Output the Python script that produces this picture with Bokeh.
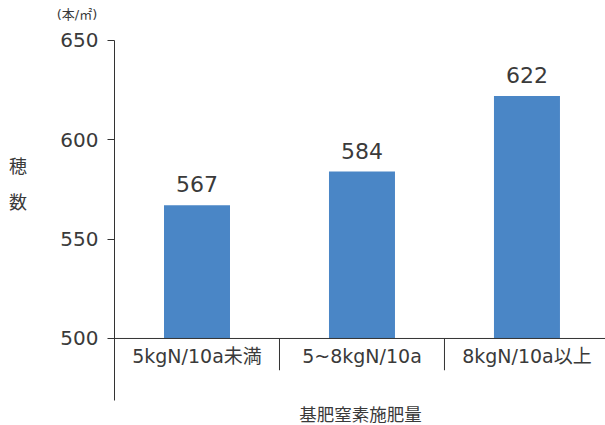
from bokeh.plotting import figure
from bokeh.models import Range1d, FixedTicker, ColumnDataSource
from bokeh.core.properties import value
from bokeh.embed import file_html
from bokeh.resources import INLINE

# 基肥窒素施肥量ごとの穂数（本/㎡）
categories = ["5kgN/10a未満", "5~8kgN/10a", "8kgN/10a以上"]
ear_counts = [567, 584, 622]
y_ticks = [500, 550, 600, 650]

FONT = "DejaVu Sans, Noto Sans CJK JP"
CJK = "Noto Sans CJK JP"
TEXT = "#3a3a3a"
LINE = "#333333"
BAR = "#4a86c6"

Y_BASE, Y_TOP = 500, 650
AXIS_BOTTOM = 468.8          # the value axis continues below the baseline
SEP_BOTTOM = 484             # lower end of the category separators
X_END = 2.976

# the frame fills the whole canvas; the value axis sits at x = 0
p = figure(width=605, height=425, output_backend="svg", toolbar_location=None,
           x_range=Range1d(-0.691, X_END), y_range=Range1d(456.2, 670.1),
           min_border=0)
p.outline_line_color = None
p.grid.visible = False
p.xaxis.visible = False

ax = p.yaxis[0]
ax.fixed_location = 0
ax.bounds = (AXIS_BOTTOM, Y_TOP)
ax.ticker = FixedTicker(ticks=y_ticks)
ax.axis_line_color = LINE
ax.axis_line_width = 1
ax.major_tick_line_color = LINE
ax.major_tick_out = 7
ax.major_tick_in = 0
ax.minor_tick_line_color = None
ax.major_label_text_font = FONT
ax.major_label_text_font_size = "20px"
ax.major_label_text_color = TEXT
ax.major_label_standoff = 9

xs = [i + 0.5 for i in range(len(categories))]
src = ColumnDataSource(dict(x=xs, top=ear_counts, cat=categories,
                            lbl=[str(v) for v in ear_counts]))

p.vbar(x="x", top="top", bottom=Y_BASE, width=0.4, source=src,
       fill_color=BAR, line_color=None)

# baseline of the category axis
p.segment(x0=[0], y0=[Y_BASE], x1=[X_END], y1=[Y_BASE],
          line_color=LINE, line_width=1)

# separators between categories
seps = list(range(1, len(categories)))
p.segment(x0=seps, y0=[Y_BASE] * len(seps), x1=seps,
          y1=[SEP_BOTTOM] * len(seps), line_color=LINE, line_width=1)

# value labels above the bars
p.text(x="x", y="top", text="lbl", source=src, y_offset=-13,
       text_align="center", text_baseline="bottom",
       text_font=value(FONT), text_font_size="22px", text_color=TEXT)

# category labels under the baseline
p.text(x="x", y=491.4, text="cat", source=src,
       text_align="center", text_baseline="middle",
       text_font=value(FONT), text_font_size="19px", text_color=TEXT)

# axis titles and unit
p.text(x=[1.491], y=[462.4], text=["基肥窒素施肥量"], text_align="center",
       text_baseline="middle", text_font=value(CJK),
       text_font_size="17.5px", text_color=TEXT)
p.text(x=[-0.585, -0.585], y=[587.1, 569.0], text=["穂", "数"],
       text_align="center", text_baseline="middle", text_font=value(CJK),
       text_font_size="18px", text_color=TEXT)
p.text(x=[-0.227], y=[663.1], text=["(本/㎡)"], text_align="center",
       text_baseline="middle", text_font=value(FONT),
       text_font_size="13px", text_color=TEXT)

open("out.html", "w").write(file_html(p, INLINE))
